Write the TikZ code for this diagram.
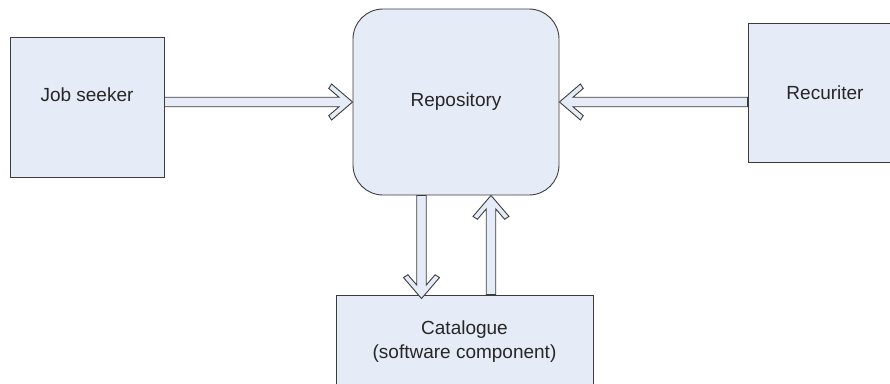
\documentclass[tikz,border=0pt]{standalone}
\usepackage{fontspec}
\setmainfont{Liberation Sans}
\usetikzlibrary{calc}
\definecolor{boxfill}{RGB}{230,236,247}
\definecolor{boxline}{RGB}{60,60,60}

\begin{document}
\begin{tikzpicture}[x=1pt,y=-1pt,
  box/.style={draw=boxline,fill=boxfill,line width=0.9pt,inner sep=0pt,align=center,
    text=black!85,font=\fontsize{19}{24}\selectfont},
  fat/.style={draw=boxline,fill=boxfill,line width=0.9pt,line join=miter,to path={
    (\tikztotarget)
    -- ($(\tikztotarget)!21pt!(\tikztostart)!18pt!90:(\tikztostart)$)
    -- ($(\tikztotarget)!23.8pt!(\tikztostart)!13.6pt!90:(\tikztostart)$)
    -- ($(\tikztotarget)!13.5pt!(\tikztostart)!4.75pt!90:(\tikztostart)$)
    -- ($(\tikztostart)!4.75pt!-90:(\tikztotarget)$)
    -- ($(\tikztostart)!4.75pt!90:(\tikztotarget)$)
    -- ($(\tikztotarget)!13.5pt!(\tikztostart)!4.75pt!-90:(\tikztostart)$)
    -- ($(\tikztotarget)!23.8pt!(\tikztostart)!13.6pt!-90:(\tikztostart)$)
    -- ($(\tikztotarget)!21pt!(\tikztostart)!18pt!-90:(\tikztostart)$)
    -- cycle}}]
\useasboundingbox (0,0) rectangle (890,383);
\clip (0,0) rectangle (890,383);
\node[box,minimum width=154pt,minimum height=140pt,text depth=24pt](js) at (87,107){Job seeker};
\node[box,minimum width=206pt,minimum height=186pt,rounded corners=30pt](repo) at (456,102){Repository};
\node[box,minimum width=154pt,minimum height=139pt](rec) at (825,92.5){Recuriter};
\node[box,minimum width=257pt,minimum height=94pt](cat) at (464.5,342){Catalogue\\(software component)};
% end points of the arrows
\coordinate (jsout) at (js.east |- repo.west);
\coordinate (recout) at (rec.west |- repo.east);
\coordinate (down1) at ([xshift=-34.5pt]repo.south);
\coordinate (down2) at ([yshift=-4pt]cat.north -| down1);
\coordinate (up1) at ([xshift=26.5pt]cat.north);
\coordinate (up2) at (up1 |- repo.south);
\draw[fat] (jsout) to (repo.west);
\draw[fat] (recout) to (repo.east);
\draw[fat] (down1) to (down2);
\draw[fat] (up1) to (up2);
\end{tikzpicture}
\end{document}
